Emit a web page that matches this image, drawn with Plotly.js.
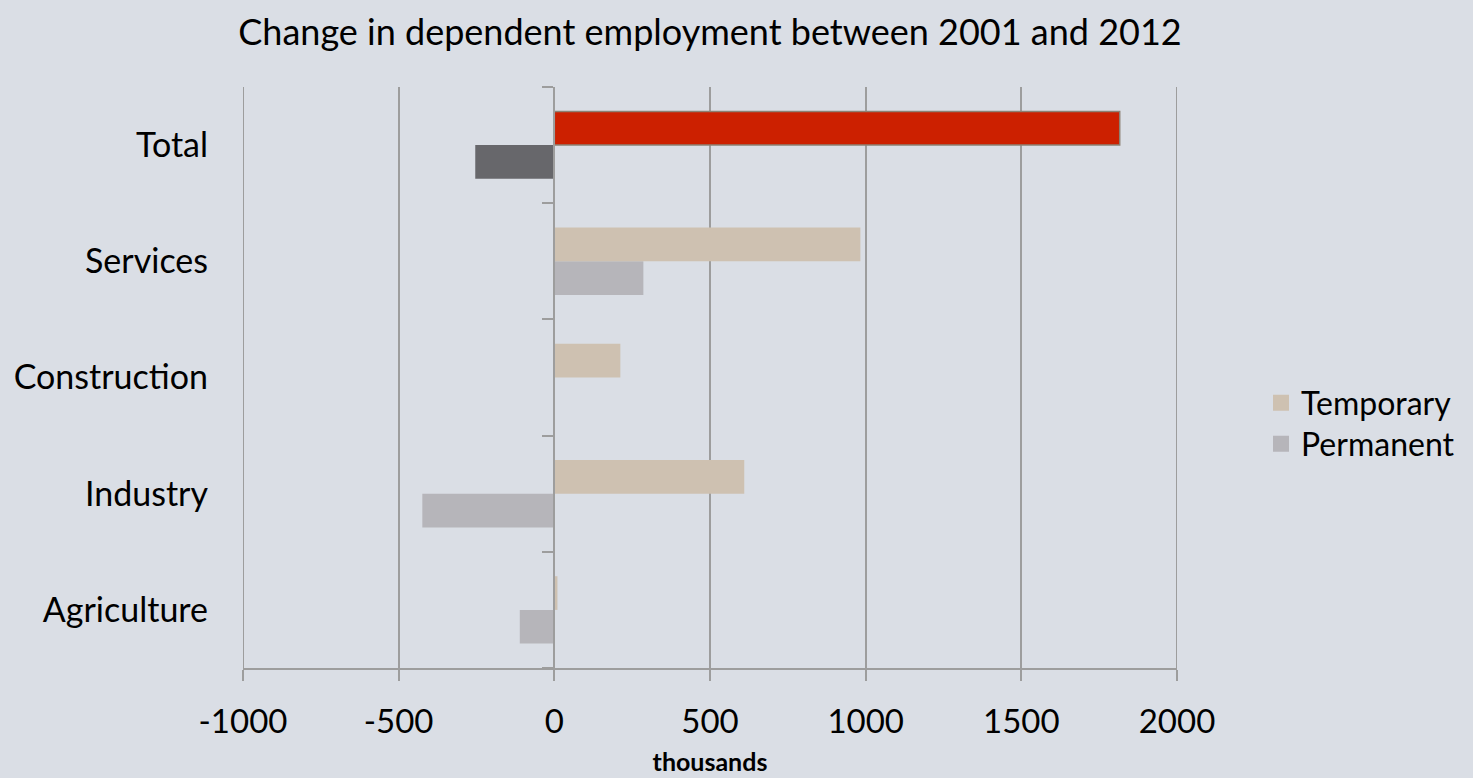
<!DOCTYPE html>
<html>
<head>
<meta charset="utf-8">
<script src="https://cdn.plot.ly/plotly-3.0.1.min.js"></script>
<style>
  html, body { margin: 0; padding: 0; background: #dadee5; }
  #chart { width: 1473px; height: 778px; }
</style>
</head>
<body>
<div id="chart"></div>
<script>
// Data (thousands), bottom-to-top order as drawn
const categories = ['Agriculture', 'Industry', 'Construction', 'Services', 'Total'];
const temporary = [10, 610, 212, 983, 1816];
const permanent = [-111, -424, 0, 286, -254];
const xTickVals = [-1000, -500, 0, 500, 1000, 1500, 2000];
const xTickText = ['-1000', '-500', '0', '500', '1000', '1500', '2000'];
const seriesNames = ['Temporary', 'Permanent'];

const FONT = 'Lato, "Open Sans", sans-serif';
const tempColor = '#cec1b1';
const permColor = '#b6b5ba';
const grid = '#9d9d9d';

const tempColors = categories.map(c => c === 'Total' ? '#cc2000' : tempColor);
const tempLineColors = categories.map(c => c === 'Total' ? '#8c8173' : 'rgba(0,0,0,0)');
const tempLineWidths = categories.map(c => c === 'Total' ? 1.5 : 0);
const permColors = categories.map(c => c === 'Total' ? '#67676b' : permColor);

const traces = [
  {
    type: 'bar', orientation: 'h', name: seriesNames[1],
    y: categories, x: permanent,
    marker: { color: permColors, line: { width: 0 } },
    showlegend: false, hoverinfo: 'x+y'
  },
  {
    type: 'bar', orientation: 'h', name: seriesNames[0],
    y: categories, x: temporary,
    marker: { color: tempColors, line: { color: tempLineColors, width: tempLineWidths } },
    showlegend: false, hoverinfo: 'x+y'
  },
  // legend entries (square swatches), no plotted marks
  {
    type: 'scatter', mode: 'markers', name: seriesNames[0], x: [null], y: [null],
    marker: { symbol: 'square', size: 16, color: tempColor }, legend: 'legend', hoverinfo: 'skip'
  },
  {
    type: 'scatter', mode: 'markers', name: seriesNames[1], x: [null], y: [null],
    marker: { symbol: 'square', size: 16, color: permColor }, legend: 'legend2', hoverinfo: 'skip'
  },
  {
    type: 'scatter', mode: 'none', y: categories, x: categories.map(() => 0),
    yaxis: 'y2', showlegend: false, hoverinfo: 'skip'
  }
];

const edgeVals = [xTickVals[0], xTickVals[xTickVals.length - 1]];

const legendBase = {
  xref: 'container', yref: 'container',
  x: 1261 / 1473, xanchor: 'left', yanchor: 'middle',
  bgcolor: 'rgba(0,0,0,0)',
  font: { family: FONT, size: 32, color: '#000' },
  itemclick: false, itemdoubleclick: false
};

const layout = {
  width: 1473, height: 778,
  paper_bgcolor: '#dadee5', plot_bgcolor: '#dadee5',
  font: { family: FONT, size: 32, color: '#000' },
  margin: { l: 243, r: 296, t: 87, b: 110, autoexpand: false },
  title: {
    text: 'Change in dependent employment between 2001 and 2012',
    font: { family: FONT, size: 36, color: '#000' },
    x: 0.5, xref: 'paper', xanchor: 'center',
    y: 1 - 32 / 778, yref: 'container', yanchor: 'middle'
  },
  barmode: 'group', bargap: 0.42, bargroupgap: 0,
  xaxis: {
    range: [-1000, 2000], tickmode: 'array', tickvals: xTickVals, ticktext: xTickText,
    automargin: false,
    showgrid: true, gridcolor: grid, gridwidth: 2,
    zeroline: false,
    showline: true, linecolor: grid, linewidth: 2,
    ticks: 'outside', ticklen: 11, tickwidth: 2, tickcolor: grid,
    ticklabelstandoff: 12,
    tickfont: { family: FONT, size: 33, color: '#000' },
    title: { text: '<b>thousands</b>', font: { family: FONT, size: 25, color: '#000' }, standoff: 15 },
    fixedrange: true
  },
  yaxis: {
    type: 'category', range: [-0.5, 4.5], automargin: false,
    showgrid: false, zeroline: false, showline: false, ticks: '',
    ticklabelstandoff: 34,
    tickfont: { family: FONT, size: 34, color: '#000' },
    fixedrange: true
  },
  yaxis2: {
    type: 'category', range: [-0.5, 4.5], overlaying: 'y',
    anchor: 'free', position: 1 / 3, side: 'left', automargin: false,
    showgrid: false, zeroline: false,
    showline: true, linecolor: grid, linewidth: 2,
    ticks: 'outside', ticklen: 11, tickwidth: 2, tickcolor: grid,
    tickson: 'boundaries', showticklabels: false,
    fixedrange: true
  },
  shapes: edgeVals.map(v => ({
    type: 'line', xref: 'x', yref: 'paper', x0: v, x1: v, y0: 0, y1: 1,
    line: { color: grid, width: 2 }, layer: 'below'
  })),
  legend: Object.assign({}, legendBase, { y: 1 - 403 / 778 }),
  legend2: Object.assign({}, legendBase, { y: 1 - 444 / 778 }),
  showlegend: true
};

Plotly.newPlot('chart', traces, layout, { displayModeBar: false, staticPlot: true });
</script>
</body>
</html>
